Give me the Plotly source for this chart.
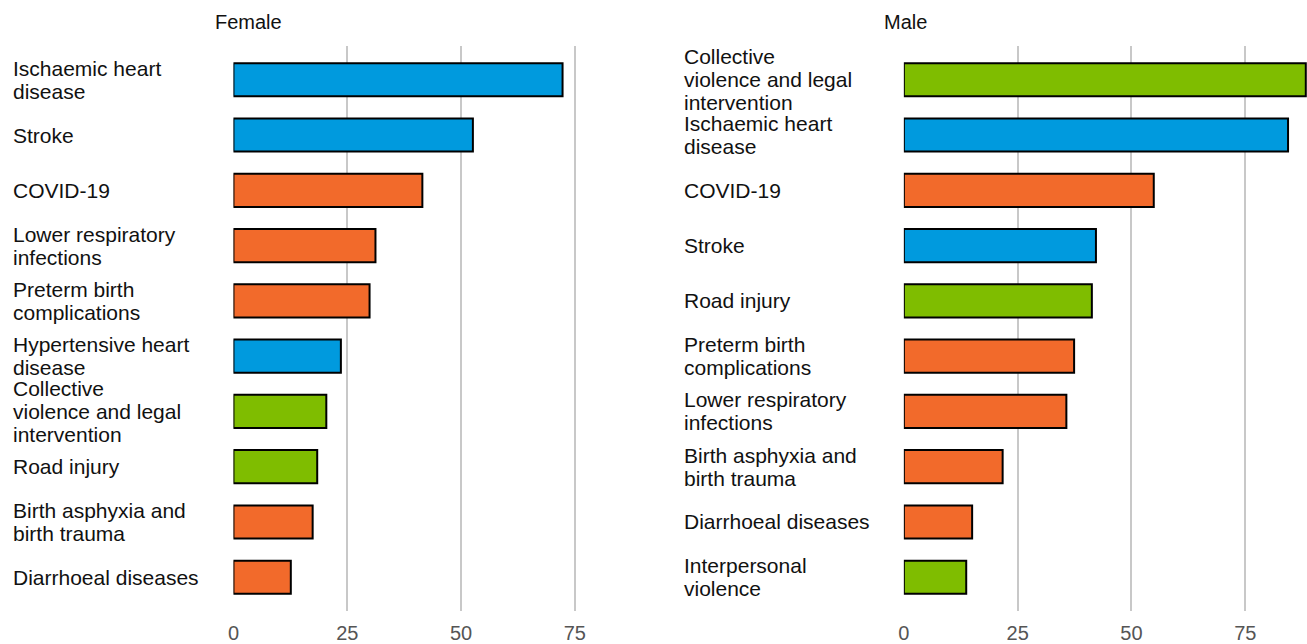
import plotly.graph_objects as go

# ---- data ----
female_causes = [
    "Ischaemic heart<br>disease",
    "Stroke",
    "COVID-19",
    "Lower respiratory<br>infections",
    "Preterm birth<br>complications",
    "Hypertensive heart<br>disease",
    "Collective<br>violence and legal<br>intervention",
    "Road injury",
    "Birth asphyxia and<br>birth trauma",
    "Diarrhoeal diseases",
]
female_values = [72.3, 52.6, 41.5, 31.2, 29.9, 23.6, 20.4, 18.4, 17.4, 12.6]
female_groups = ["ncd", "ncd", "comm", "comm", "comm", "ncd", "inj", "inj", "comm", "comm"]

male_causes = [
    "Collective<br>violence and legal<br>intervention",
    "Ischaemic heart<br>disease",
    "COVID-19",
    "Stroke",
    "Road injury",
    "Preterm birth<br>complications",
    "Lower respiratory<br>infections",
    "Birth asphyxia and<br>birth trauma",
    "Diarrhoeal diseases",
    "Interpersonal<br>violence",
]
male_values = [88.3, 84.4, 54.9, 42.2, 41.3, 37.4, 35.7, 21.7, 15.0, 13.7]
male_groups = ["inj", "ncd", "comm", "ncd", "inj", "comm", "comm", "comm", "comm", "inj"]

tick_values = [0, 25, 50, 75]
panel_titles = ["Female", "Male"]

group_colors = {"ncd": "#009ADE", "comm": "#F26A2B", "inj": "#7FBD00"}

FONT = "Liberation Sans, Arial, sans-serif"
W, H = 1307, 644
T, B = 46, 29
LINE = 23  # px between label lines
PX_PER_UNIT = 4.573

fig = go.Figure()

f0, m0 = 228.5, 902.0
rng_max = (W - m0) / PX_PER_UNIT
panels = [
    (female_causes, female_values, female_groups, "x", "y", f0 / W, (f0 + rng_max * PX_PER_UNIT) / W, 5 / W, 208 / W),
    (male_causes, male_values, male_groups, "x2", "y2", m0 / W, 1.0, 679 / W, 880 / W),
]

for i, (cats, vals, grps, xa, ya, d0, d1, lab_x, title_x) in enumerate(panels):
    ids = [f"{i}_{k}" for k in range(len(cats))]
    fig.add_trace(go.Bar(
        x=vals, y=ids, orientation="h",
        marker=dict(color=[group_colors[g] for g in grps],
                    line=dict(color="#000000", width=2)),
        width=0.6, xaxis=xa, yaxis=ya, showlegend=False,
        hovertext=[c.replace("<br>", " ") for c in cats], hoverinfo="text+x",
    ))
    for cid, c in zip(ids, cats):
        lines = c.split("<br>")
        n = len(lines)
        for j, ln in enumerate(lines):
            fig.add_annotation(
                text=ln, x=lab_x, xref="paper", y=cid, yref=ya,
                xanchor="left", yanchor="middle", align="left", showarrow=False,
                yshift=((n - 1) / 2 - j) * LINE,
                font=dict(family=FONT, size=21, color="#111111"),
            )
    fig.add_annotation(
        text=panel_titles[i], x=title_x, xref="paper",
        y=1 + (T - 22) / (H - T - B), yref="paper",
        yanchor="middle", xanchor="left", showarrow=False,
        font=dict(family=FONT, size=20, color="#111111"),
    )
    axis_x = dict(
        domain=[d0, d1], range=[0, rng_max], tickvals=tick_values,
        showgrid=True, gridcolor="#C8C8C8", gridwidth=2, zeroline=False,
        showline=False, ticks="outside", ticklen=4, tickcolor="rgba(0,0,0,0)",
        tickfont=dict(family=FONT, size=20, color="#555555"),
        anchor=ya, fixedrange=True,
    )
    axis_y = dict(
        type="category", categoryorder="array", categoryarray=ids,
        range=[9.61, -0.61], showticklabels=False, showgrid=False,
        zeroline=False, showline=False, anchor=xa, domain=[0, 1], fixedrange=True,
    )
    if i == 0:
        fig.update_layout(xaxis=axis_x, yaxis=axis_y)
    else:
        fig.update_layout(xaxis2=axis_x, yaxis2=axis_y)

fig.update_layout(
    width=W, height=H,
    margin=dict(l=0, r=0, t=T, b=B),
    paper_bgcolor="white", plot_bgcolor="white",
)

fig.write_html(
    "out.html",
    config={"displayModeBar": False},
    post_script="document.body.style.margin='0';document.body.style.overflow='hidden';",
)
